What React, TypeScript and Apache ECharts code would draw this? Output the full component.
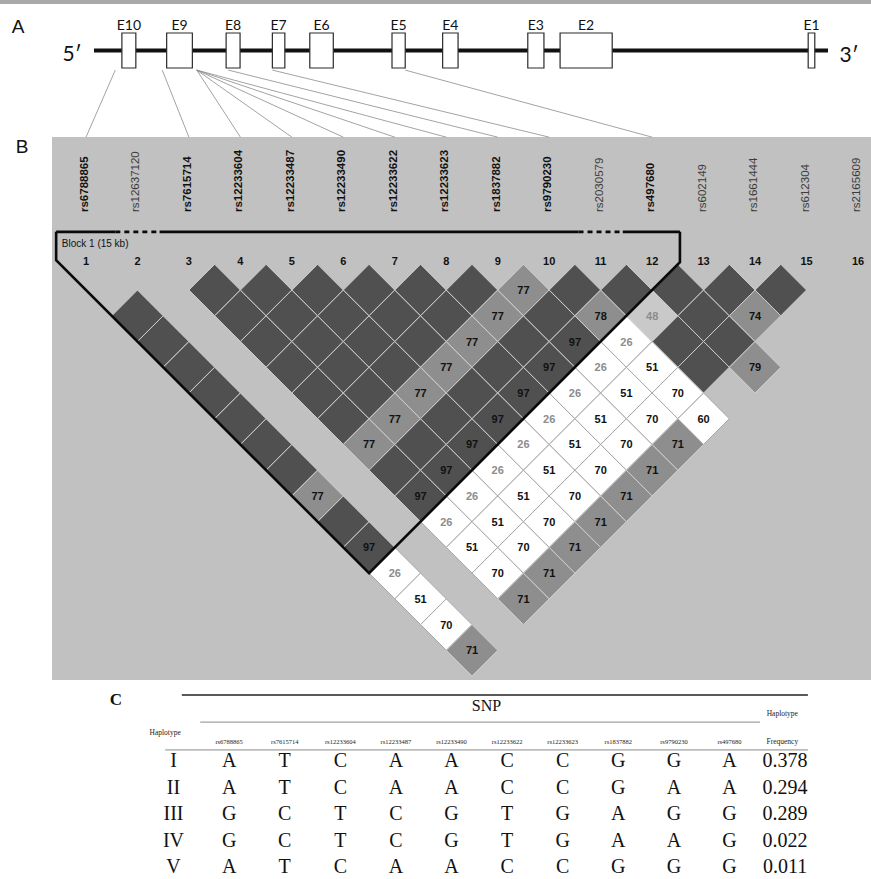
import React, { useEffect, useRef } from 'react';
import * as echarts from 'echarts';

// ---------- A: gene structure (positions in % of gene length, 5' -> 3') ----------
const exonNames = ['E10', 'E9', 'E8', 'E7', 'E6', 'E5', 'E4', 'E3', 'E2', 'E1'];
const exonStart = [3.8, 9.9, 18.0, 24.3, 29.4, 40.6, 47.5, 59.1, 63.5, 97.3];
const exonEnd = [5.7, 13.4, 19.9, 26.0, 32.6, 42.4, 49.6, 61.3, 70.6, 98.2];

// ---------- B: pairwise LD (D' x 100) ----------
const snpIds = [
  'rs6788865', 'rs12637120', 'rs7615714', 'rs12233604', 'rs12233487', 'rs12233490',
  'rs12233622', 'rs12233623', 'rs1837882', 'rs9790230', 'rs2030579', 'rs497680',
  'rs602149', 'rs1661444', 'rs612304', 'rs2165609',
];
// 1 = SNP used in the haplotype analysis (bold label)
const snpInHaplotype = [1, 0, 1, 1, 1, 1, 1, 1, 1, 1, 0, 1, 0, 0, 0, 0];

// connectors: SNP number and the gene position they point to
const linkSnp = [1, 3, 4, 5, 6, 7, 8, 9, 10, 12];
const linkGenePos = [2.9, 9.3, 14.0, 14.0, 14.0, 14.0, 14.0, 18.3, 24.3, 42.4];

// ldDprime[i-1][k] is the pair (i, i+1+k); null = not estimated
const ldDprime: (number | null)[][] = [
  [null, 100, 100, 100, 100, 100, 100, 100, 77, 100, 97, 26, 51, 70, 71],
  [null, null, null, null, null, null, null, null, null, null, null, null, null, null],
  [100, 100, 100, 100, 100, 100, 77, 100, 97, 26, 51, 70, 71],
  [100, 100, 100, 100, 100, 77, 100, 97, 26, 51, 70, 71],
  [100, 100, 100, 100, 77, 100, 97, 26, 51, 70, 71],
  [100, 100, 100, 77, 100, 97, 26, 51, 70, 71],
  [100, 100, 77, 100, 97, 26, 51, 70, 71],
  [100, 77, 100, 97, 26, 51, 70, 71],
  [77, 100, 97, 26, 51, 70, 71],
  [100, 78, 26, 51, 70, 60],
  [100, 48, 100, 100, null],
  [100, 100, 100, 79],
  [100, 74, null],
  [100, null],
  [null],
];
// LD class of each pair: d = strong, m = moderate, l = weak, w = no evidence, - = none
const ldClass = [
  '-dddddddmddwwwm',
  '--------------',
  'ddddddmddwwwm',
  'dddddmddwwwm',
  'ddddmddwwwm',
  'dddmddwwwm',
  'ddmddwwwm',
  'dmddwwwm',
  'mddwwwm',
  'dmwwww',
  'dldd-',
  'dddm',
  'dm-',
  'd-',
  '-',
];

const blockFirst = 1;
const blockLast = 12;
const blockGapSnps = [2, 11];
const blockLabel = 'Block 1 (15 kb)';

// ---------- C: haplotypes ----------
const tableSnps = [
  'rs6788865', 'rs7615714', 'rs12233604', 'rs12233487', 'rs12233490',
  'rs12233622', 'rs12233623', 'rs1837882', 'rs9790230', 'rs497680',
];
const hapIds = ['I', 'II', 'III', 'IV', 'V'];
const hapAlleles = ['ATCAACCGGA', 'ATCAACCGAA', 'GCTCGTGAGG', 'GCTCGTGAAG', 'ATCAACCGGG'];
const hapFreq = [0.378, 0.294, 0.289, 0.022, 0.011];

// ---------- styling ----------
const SANS = '"Liberation Sans", Arial, sans-serif';
const SERIF = '"Liberation Serif", "Times New Roman", serif';
const CLASS_KEYS = 'dmlw';
const CELL_FILL = ['#505050', '#8e8e8e', '#c9c9c9', '#ffffff'];
const CELL_EDGE = ['#cfcfcf', '#cfcfcf', '#d8d8d8', '#a6a6a6'];
const PANEL_GRAY = '#c1c1c1';

function buildCells() {
  const out: number[][] = [];
  ldDprime.forEach((row, r) => {
    const i = r + 1;
    row.forEach((v, c) => {
      const j = i + 1 + c;
      const cls = ldClass[r][c];
      if (v == null || cls === '-') return;
      out.push([(i + j) / 2, (j - i) / 2, v, CLASS_KEYS.indexOf(cls)]);
    });
  });
  return out;
}

type TItem = { col: number; row: number; text: string; kind: string };
function buildTable(): TItem[] {
  const items: TItem[] = [];
  items.push({ col: 5.63, row: -2.04, text: 'SNP', kind: 'snp' });
  items.push({ col: -0.15, row: -1.02, text: 'Haplotype', kind: 'cap' });
  items.push({ col: 10.95, row: -1.77, text: 'Haplotype', kind: 'cap' });
  items.push({ col: 10.95, row: -0.68, text: 'Frequency', kind: 'cap' });
  tableSnps.forEach((s, k) => items.push({ col: k + 1, row: -0.68, text: s, kind: 'head' }));
  hapIds.forEach((h, r) => {
    items.push({ col: 0, row: r, text: h, kind: 'body' });
    hapAlleles[r].split('').forEach((a, k) => items.push({ col: k + 1, row: r, text: a, kind: 'body' }));
    items.push({ col: 11, row: r, text: hapFreq[r].toFixed(3), kind: 'body' });
  });
  return items;
}

const TABLE_FONT: Record<string, any> = {
  body: { fontSize: 20, fontFamily: SERIF, fill: '#111' },
  snp: { fontSize: 16, fontFamily: SERIF, fill: '#111' },
  cap: { fontSize: 7.5, fontFamily: SERIF, fill: '#222' },
  head: { fontSize: 6.5, fontFamily: SERIF, fill: '#222' },
};
// table rules: [from col, to col, row, width, colour]
const TABLE_RULES: [number, number, number, number, string][] = [
  [0.15, 11.41, -2.45, 1.6, '#222'],
  [0.48, 10.55, -1.43, 1, '#8a8a8a'],
  [-0.15, 11.41, -0.38, 1, '#8a8a8a'],
];

export default function App() {
  const ref = useRef<HTMLDivElement>(null);

  useEffect(() => {
    if (!ref.current) return;
    const chart = echarts.init(ref.current, null, { renderer: 'svg' });
    const cells = buildCells();
    const table = buildTable();

    const option: any = {
      animation: false,
      backgroundColor: '#ffffff',
      grid: [
        { left: 94, right: 43, top: 33, height: 35 },
        { left: 86, right: 13, top: 264.3, height: 411.76 },
        { left: 145.7, right: 58.1, top: 746.75, height: 132.25 },
      ],
      xAxis: [
        { gridIndex: 0, type: 'value', min: 0, max: 100, show: false },
        { gridIndex: 1, type: 'value', min: 1, max: 16, show: false },
        { gridIndex: 2, type: 'value', min: -0.5, max: 11.5, show: false },
      ],
      yAxis: [
        { gridIndex: 0, type: 'value', min: 0, max: 1, show: false },
        { gridIndex: 1, type: 'value', min: 0, max: 8, inverse: true, show: false },
        { gridIndex: 2, type: 'value', min: -0.5, max: 4.49, inverse: true, show: false },
      ],
      series: [
        // gene backbone
        {
          type: 'custom', xAxisIndex: 0, yAxisIndex: 0, z: 2,
          data: [[0, 100]],
          renderItem: (_p: any, api: any) => {
            const a = api.coord([api.value(0), 0.5]);
            const b = api.coord([api.value(1), 0.5]);
            return { type: 'line', shape: { x1: a[0], y1: a[1], x2: b[0], y2: b[1] }, style: { stroke: '#111', lineWidth: 4 } };
          },
        },
        // exons
        {
          type: 'custom', xAxisIndex: 0, yAxisIndex: 0, z: 3,
          data: exonStart.map((s, k) => [s, exonEnd[k]]),
          renderItem: (p: any, api: any) => {
            const a = api.coord([api.value(0), 1]);
            const b = api.coord([api.value(1), 0]);
            return {
              type: 'group',
              children: [
                { type: 'rect', shape: { x: a[0], y: a[1], width: b[0] - a[0], height: b[1] - a[1] }, style: { fill: '#fff', stroke: '#2a2a2a', lineWidth: 1.2 } },
                { type: 'text', x: (a[0] + b[0]) / 2, y: a[1] - 9, style: { text: exonNames[p.dataIndex], fontSize: 14, fontFamily: 'Lato, sans-serif', fill: '#111', align: 'center', verticalAlign: 'middle' } },
              ],
            };
          },
        },
        // LD cells
        {
          type: 'custom', xAxisIndex: 1, yAxisIndex: 1, z: 3,
          data: cells,
          renderItem: (_p: any, api: any) => {
            const cx = api.value(0), cy = api.value(1), v = api.value(2), k = api.value(3);
            const pts = [[cx - 0.5, cy], [cx, cy - 0.5], [cx + 0.5, cy], [cx, cy + 0.5]].map((q) => api.coord(q));
            const c = api.coord([cx, cy]);
            const children: any[] = [
              { type: 'polygon', shape: { points: pts }, style: { fill: CELL_FILL[k], stroke: CELL_EDGE[k], lineWidth: 1 } },
            ];
            if (v < 100) {
              children.push({
                type: 'text', x: c[0], y: c[1],
                style: { text: String(v), fontSize: 11, fontWeight: 'bold', fontFamily: SANS, fill: v < 50 ? '#8c8c8c' : '#111', align: 'center', verticalAlign: 'middle' },
              });
            }
            return { type: 'group', children };
          },
        },
        // SNP names and numbers
        {
          type: 'custom', xAxisIndex: 1, yAxisIndex: 1, z: 4,
          data: snpIds.map((_s, k) => [k + 1, snpInHaplotype[k]]),
          renderItem: (p: any, api: any) => {
            const idx = api.value(0), hi = api.value(1);
            const nameAt = api.coord([idx, -1.016]);
            const numAt = api.coord([idx, -0.064]);
            return {
              type: 'group',
              children: [
                {
                  type: 'text', x: nameAt[0] - 2, y: nameAt[1], rotation: Math.PI / 2,
                  style: { text: snpIds[p.dataIndex], fontSize: 11.5, fontWeight: hi ? 'bold' : 'normal', fontFamily: SANS, fill: hi ? '#111' : '#3c3c3c', align: 'left', verticalAlign: 'middle' },
                },
                {
                  type: 'text', x: numAt[0], y: numAt[1],
                  style: { text: String(idx), fontSize: 11, fontWeight: 'bold', fontFamily: SANS, fill: '#111', align: 'center', verticalAlign: 'middle' },
                },
              ],
            };
          },
        },
        // haplotype block outline
        {
          type: 'custom', xAxisIndex: 1, yAxisIndex: 1, z: 5,
          data: [[blockFirst, blockLast]],
          renderItem: (_p: any, api: any) => {
            const a = api.value(0), b = api.value(1);
            const topY = -0.63, left = a - 0.58, right = b + 0.54;
            const outline = [
              [left, topY], [left, left - a + 0.5], [(a + b) / 2, (b - a) / 2 + 0.5], [right, b + 0.5 - right], [right, topY],
            ].map((q) => api.coord(q));
            const children: any[] = [
              { type: 'polyline', shape: { points: outline }, style: { stroke: '#0a0a0a', lineWidth: 2.6, fill: 'none', lineJoin: 'miter' } },
            ];
            let cur = left;
            const seg = (x0: number, x1: number, dashed: boolean) => {
              const p0 = api.coord([x0, topY]);
              const p1 = api.coord([x1, topY]);
              children.push({ type: 'line', shape: { x1: p0[0], y1: p0[1], x2: p1[0], y2: p1[1] }, style: { stroke: '#0a0a0a', lineWidth: 2.6, lineDash: dashed ? [5, 4] : null } });
            };
            blockGapSnps.forEach((g) => {
              seg(cur, g - 0.43, false);
              seg(g - 0.43, g + 0.43, true);
              cur = g + 0.43;
            });
            seg(cur, right, false);
            const lab = api.coord([0.53, -0.41]);
            children.push({ type: 'text', x: lab[0], y: lab[1], style: { text: blockLabel, fontSize: 10, fontFamily: SANS, fill: '#111', align: 'left', verticalAlign: 'middle' } });
            return { type: 'group', children };
          },
        },
        // table rules
        {
          type: 'custom', xAxisIndex: 2, yAxisIndex: 2, z: 2,
          data: TABLE_RULES.map((r) => [r[0], r[1], r[2]]),
          renderItem: (p: any, api: any) => {
            const r = TABLE_RULES[p.dataIndex];
            const a = api.coord([api.value(0), api.value(2)]);
            const b = api.coord([api.value(1), api.value(2)]);
            return { type: 'line', shape: { x1: a[0], y1: a[1], x2: b[0], y2: b[1] }, style: { stroke: r[4], lineWidth: r[3] } };
          },
        },
        // table text
        {
          type: 'custom', xAxisIndex: 2, yAxisIndex: 2, z: 3,
          data: table.map((t) => [t.col, t.row]),
          renderItem: (p: any, api: any) => {
            const t = table[p.dataIndex];
            const c = api.coord([api.value(0), api.value(1)]);
            return { type: 'text', x: c[0], y: c[1], style: { text: t.text, align: 'center', verticalAlign: 'middle', ...TABLE_FONT[t.kind] } };
          },
        },
      ],
    };
    chart.setOption(option);

    // connectors from the gene to the SNP columns, via the two grids' scales
    const links = linkSnp.map((s, k) => {
      const p1 = chart.convertToPixel({ gridIndex: 0 }, [linkGenePos[k], -0.06]) as number[];
      const p2 = chart.convertToPixel({ gridIndex: 1 }, [s, -2.47]) as number[];
      return { type: 'line', shape: { x1: p1[0], y1: p1[1], x2: p2[0], y2: p2[1] }, style: { stroke: '#8c8c8c', lineWidth: 0.8 }, z: 1 };
    });

    chart.setOption({
      graphic: [
        { type: 'rect', shape: { x: 0, y: 0, width: 871, height: 4 }, style: { fill: '#a9a9a9' }, z: 0 },
        { type: 'rect', shape: { x: 52, y: 137, width: 819, height: 543 }, style: { fill: PANEL_GRAY }, z: -10 },
        { type: 'text', x: 18, y: 26, style: { text: 'A', fontSize: 19, fontFamily: SANS, fill: '#111', align: 'center', verticalAlign: 'middle' } },
        { type: 'text', x: 22, y: 146, style: { text: 'B', fontSize: 19, fontFamily: SANS, fill: '#111', align: 'center', verticalAlign: 'middle' } },
        { type: 'text', x: 116, y: 699, style: { text: 'C', fontSize: 17, fontWeight: 'bold', fontFamily: SERIF, fill: '#111', align: 'center', verticalAlign: 'middle' } },
        { type: 'text', x: 72, y: 52, style: { text: '5\u2032', fontSize: 21, fontFamily: 'Lato, sans-serif', fill: '#111', align: 'center', verticalAlign: 'middle' } },
        { type: 'text', x: 849, y: 53, style: { text: '3\u2032', fontSize: 21, fontFamily: 'Lato, sans-serif', fill: '#111', align: 'center', verticalAlign: 'middle' } },
        ...links,
      ],
    });

    return () => chart.dispose();
  }, []);

  return <div ref={ref} style={{ position: 'fixed', left: 0, top: 0, width: 871, height: 879 }} />;
}
